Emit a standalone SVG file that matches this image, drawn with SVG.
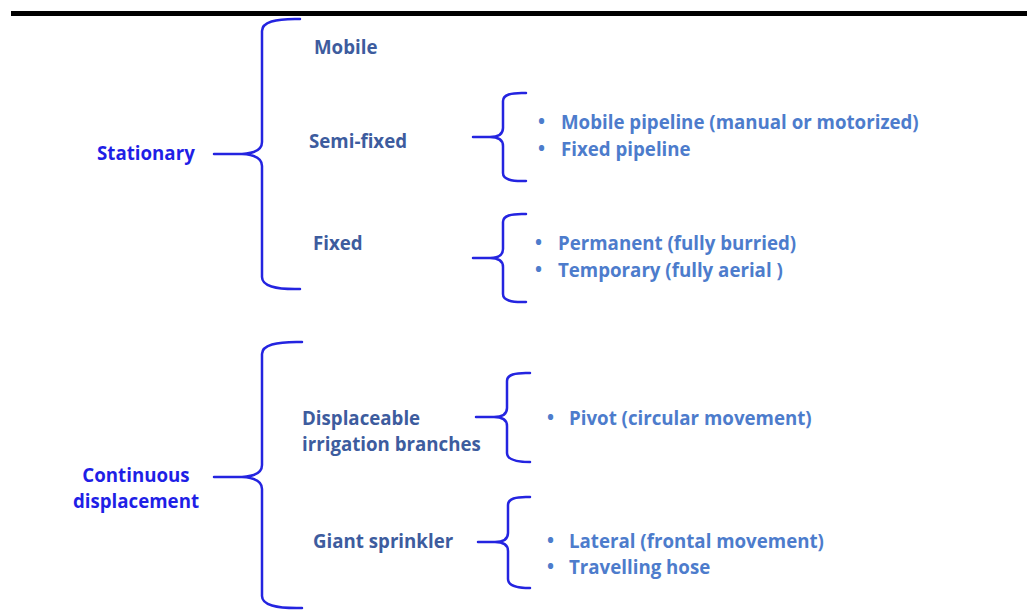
<svg xmlns="http://www.w3.org/2000/svg" width="1027" height="612" viewBox="0 0 1027 612">
  <style>
    .brace { fill: none; stroke: #2424e0; stroke-width: 2.5; stroke-linecap: round; stroke-linejoin: round; }
    text { font-family: "Open Sans", "Noto Sans", "Liberation Sans", sans-serif; font-weight: 700; font-size: 18.7px; }
    .root { fill: #1f1fe6; }
    .mid { fill: #3d5c9e; }
    .leaf { fill: #4d7ccc; }
  </style>
  <rect width="1027" height="612" fill="#ffffff"/>
  <!-- heading rule -->
  <rect x="11" y="11" width="1016" height="5" fill="#000000"/>

  <g id="connectors">
    <!-- Stationary -->
    <path class="brace" d="M300,19 Q262,18 262,31 L262,142 Q262,153 242,154 L214,154 M242,154 Q262,155 262,166 L262,277 Q262,290 300,289"/>
    <!-- Semi-fixed -->
    <path class="brace" d="M526,93 Q503,92 503,101 L503,128 Q503,137 490,137 L473,137 M490,137 Q503,137 503,146 L503,173 Q503,182 526,181"/>
    <!-- Fixed -->
    <path class="brace" d="M526,214 Q503,213 503,222 L503,249 Q503,258 490,258 L473,258 M490,258 Q503,258 503,267 L503,294 Q503,303 526,302"/>
    <!-- Continuous displacement -->
    <path class="brace" d="M302,342 Q262,341 262,354 L262,465 Q262,476 242,477 L214,477 M242,477 Q262,478 262,489 L262,596 Q262,609 302,608"/>
    <!-- Displaceable irrigation branches -->
    <path class="brace" d="M530,373 Q507,372 507,381 L507,408 Q507,417 494,417 L476,417 M494,417 Q507,417 507,426 L507,453 Q507,462 530,462"/>
    <!-- Giant sprinkler -->
    <path class="brace" d="M530,497 Q508,496 508,505 L508,533 Q508,542 495,542 L478,542 M495,542 Q508,542 508,551 L508,579 Q508,588 530,588"/>
  </g>

  <g id="stationary"><text class="root" x="97" y="160">Stationary</text></g>
  <g id="mobile"><text class="mid" x="314" y="54">Mobile</text></g>
  <g id="semi-fixed"><text class="mid" x="309" y="148">Semi-fixed</text></g>
  <g id="fixed"><text class="mid" x="313" y="250">Fixed</text></g>

  <g id="semi-fixed-types">
    <text class="leaf" x="538" y="128">•</text>
    <text class="leaf" x="561" y="129">Mobile pipeline (manual or motorized)</text>
    <text class="leaf" x="538" y="155">•</text>
    <text class="leaf" x="561" y="156">Fixed pipeline</text>
  </g>
  <g id="fixed-types">
    <text class="leaf" x="535" y="249">•</text>
    <text class="leaf" x="558" y="250">Permanent (fully burried)</text>
    <text class="leaf" x="535" y="276">•</text>
    <text class="leaf" x="558" y="277">Temporary (fully aerial )</text>
  </g>

  <g id="continuous-displacement">
    <text class="root" x="136" y="482" text-anchor="middle">Continuous</text>
    <text class="root" x="136" y="508" text-anchor="middle">displacement</text>
  </g>
  <g id="displaceable-branches">
    <text class="mid" x="302" y="425">Displaceable</text>
    <text class="mid" x="302" y="451">irrigation branches</text>
  </g>
  <g id="giant-sprinkler"><text class="mid" x="313" y="548">Giant sprinkler</text></g>

  <g id="branch-types">
    <text class="leaf" x="547" y="424">•</text>
    <text class="leaf" x="569" y="425">Pivot (circular movement)</text>
  </g>
  <g id="sprinkler-types">
    <text class="leaf" x="547" y="547">•</text>
    <text class="leaf" x="569" y="548">Lateral (frontal movement)</text>
    <text class="leaf" x="547" y="573">•</text>
    <text class="leaf" x="569" y="574">Travelling hose</text>
  </g>
</svg>
